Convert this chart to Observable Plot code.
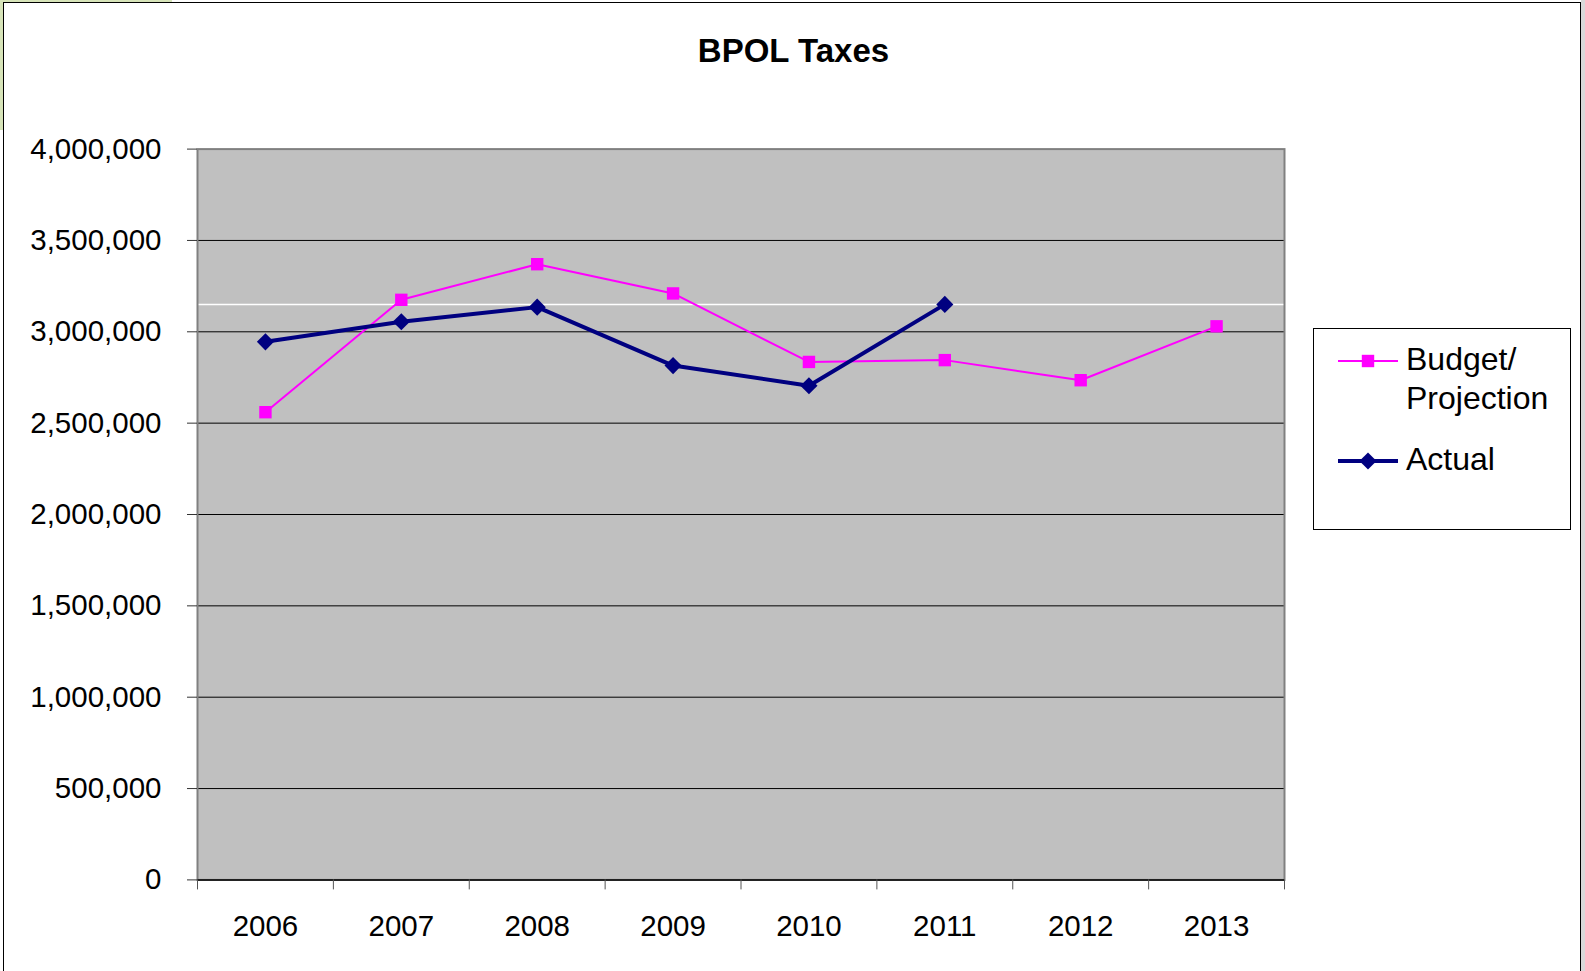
<!DOCTYPE html>
<html>
<head>
<meta charset="utf-8">
<script src="https://cdn.jsdelivr.net/npm/d3@7"></script>
<script src="https://cdn.jsdelivr.net/npm/@observablehq/plot@0.6"></script>
<style>
  html, body { margin: 0; padding: 0; background: #ffffff; overflow: hidden; }
  #stage { position: relative; width: 1585px; height: 971px; font-family: "Liberation Sans", Arial, sans-serif; }
  #corner { position: absolute; left: 0; top: 0; width: 172px; height: 130px; background: #d7e4b9; }
  #edge { position: absolute; left: 1581px; top: 0; width: 4px; height: 971px; background: #d9d9d9; }
  #box { position: absolute; left: 3px; top: 2px; width: 1576px; height: 980px; border: 1px solid #000; background: #fff; }
  #chart { position: absolute; left: 0; top: 0; }
  #title { position: absolute; left: 0; width: 1587px; top: 34px; text-align: center; font-size: 33px; line-height: 33px; font-weight: bold; color: #000; }
  #legend { position: absolute; left: 1313px; top: 328px; width: 256px; height: 200px; border: 1px solid #000; background: #fff; }
  .lg-text { position: absolute; font-size: 32px; line-height: 32px; color: #000; white-space: nowrap; }
  .lg-swatch { position: absolute; overflow: visible; }
</style>
</head>
<body>
<div id="stage">
  <div id="corner"></div>
  <div id="edge"></div>
  <div id="box"></div>
  <div id="chart"></div>
  <div id="title">BPOL Taxes</div>
  <div id="legend"></div>
</div>
<script>
// Fiscal years on the category axis
const years = [2006, 2007, 2008, 2009, 2010, 2011, 2012, 2013];
// Budget / projection figures, one per year
const budgetValues = [2560000, 3175000, 3370000, 3210000, 2835000, 2845000, 2735000, 3030000];
// Actual collections, reported through 2011
const actualYears = [2006, 2007, 2008, 2009, 2010, 2011];
const actualValues = [2945000, 3055000, 3135000, 2815000, 2705000, 3150000];
// Value axis ticks
const yTicks = [0, 500000, 1000000, 1500000, 2000000, 2500000, 3000000, 3500000, 4000000];

const series = [
  {name: "Budget/\nProjection", color: "#ff00ff", width: 2, symbol: "square", r: 7},
  {name: "Actual", color: "#000080", width: 4, symbol: "diamond2", r: 7.7}
];

const budget = years.map((year, i) => ({year, value: budgetValues[i]}));
const actual = actualYears.map((year, i) => ({year, value: actualValues[i]}));
const latestActual = actualValues[actualValues.length - 1];

// Category boundaries for the tick marks between years
const bounds = [...years.map(y => y - 0.5), years[years.length - 1] + 0.5];

const W = 1585, H = 971;
const chart = Plot.plot({
  width: W,
  height: H,
  marginLeft: 197,
  marginRight: 301,
  marginTop: 148.6,
  marginBottom: 91.6,
  style: {fontFamily: "Liberation Sans, Arial, sans-serif", fontSize: "29.5px", background: "transparent", color: "#000"},
  x: {domain: [bounds[0], bounds[bounds.length - 1]], axis: null, label: null},
  y: {domain: [0, 4000000], axis: null, label: null},
  marks: [
    Plot.frame({fill: "#c0c0c0", stroke: null}),
    Plot.ruleY(yTicks.filter(v => v > 0 && v < 4000000), {stroke: "#000", strokeWidth: 1}),
    Plot.ruleY([latestActual], {stroke: "#ffffff", strokeWidth: 1.5}),
    Plot.frame({stroke: "#808080", strokeWidth: 2}),
    Plot.ruleY([0], {stroke: "#000", strokeWidth: 1.5}),
    Plot.axisY(yTicks, {tickSize: 10, tickPadding: 26, tickFormat: d3.format(","), stroke: "#333", fill: "#000", fontSize: 29.5, label: null}),
    Plot.axisX(bounds, {tickSize: 10, tickFormat: () => "", stroke: "#555", label: null}),
    Plot.axisX(years, {tickSize: 0, tickPadding: 35, tickFormat: d => String(d), fill: "#000", fontSize: 29.5, label: null}),
    Plot.line(budget, {x: "year", y: "value", stroke: series[0].color, strokeWidth: series[0].width}),
    Plot.dot(budget, {x: "year", y: "value", symbol: series[0].symbol, r: series[0].r, fill: series[0].color}),
    Plot.line(actual, {x: "year", y: "value", stroke: series[1].color, strokeWidth: series[1].width}),
    Plot.dot(actual, {x: "year", y: "value", symbol: series[1].symbol, r: series[1].r, fill: series[1].color})
  ]
});
document.getElementById("chart").appendChild(chart);

// Legend: line-and-marker swatch plus label for each series
const legend = d3.select("#legend");
const rows = [
  {s: series[0], swatchTop: 32, lines: ["Budget/", "Projection"], textTop: 14},
  {s: series[1], swatchTop: 132, lines: ["Actual"], textTop: 114}
];
rows.forEach(row => {
  const svg = legend.append("svg")
    .attr("class", "lg-swatch")
    .attr("width", 62).attr("height", 20)
    .style("left", "24px").style("top", (row.swatchTop - 10) + "px");
  svg.append("line")
    .attr("x1", 0).attr("x2", 60).attr("y1", 10).attr("y2", 10)
    .attr("stroke", row.s.color).attr("stroke-width", row.s.width);
  const sym = row.s.symbol === "square" ? d3.symbolSquare : d3.symbolDiamond2;
  svg.append("path")
    .attr("transform", "translate(30,10)")
    .attr("d", d3.symbol(sym, Math.PI * row.s.r * row.s.r)())
    .attr("fill", row.s.color);
  row.lines.forEach((t, i) => {
    legend.append("div")
      .attr("class", "lg-text")
      .style("left", "92px")
      .style("top", (row.textTop + i * 39) + "px")
      .text(t);
  });
});
</script>
</body>
</html>
